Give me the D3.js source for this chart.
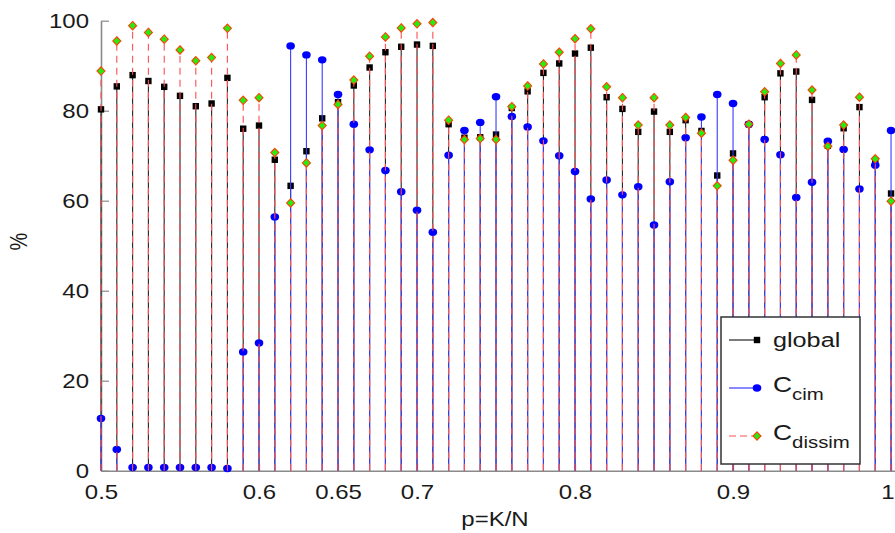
<!DOCTYPE html>
<html>
<head>
<meta charset="utf-8">
<script src="https://cdn.jsdelivr.net/npm/d3@7/dist/d3.min.js"></script>
<style>
  body { margin: 0; background: #fff; }
  svg { display: block; font-family: "Liberation Sans", Arial, sans-serif; }
</style>
</head>
<body>
<div id="chart"></div>
<script>
// x positions p = K/N
const pValues = [0.50, 0.51, 0.52, 0.53, 0.54, 0.55, 0.56, 0.57, 0.58, 0.59,
  0.60, 0.61, 0.62, 0.63, 0.64, 0.65, 0.66, 0.67, 0.68, 0.69,
  0.70, 0.71, 0.72, 0.73, 0.74, 0.75, 0.76, 0.77, 0.78, 0.79,
  0.80, 0.81, 0.82, 0.83, 0.84, 0.85, 0.86, 0.87, 0.88, 0.89,
  0.90, 0.91, 0.92, 0.93, 0.94, 0.95, 0.96, 0.97, 0.98, 0.99, 1.00];

const globalValues = [80.3, 85.4, 87.9, 86.6, 85.3, 83.3, 81.0, 81.6, 87.3, 76.0,
  76.7, 69.1, 63.3, 71.0, 78.3, 81.9, 85.6, 89.6, 93.0, 94.2,
  94.7, 94.4, 77.0, 74.0, 74.1, 74.7, 80.6, 84.3, 88.4, 90.5,
  92.7, 94.0, 83.0, 80.4, 75.3, 79.8, 75.3, 77.9, 75.5, 65.6,
  70.5, 77.0, 83.0, 88.3, 88.7, 82.4, 72.2, 76.1, 80.8, 68.9, 61.6];

const cimValues = [11.6, 4.7, 0.7, 0.7, 0.7, 0.7, 0.7, 0.7, 0.5, 26.4,
  28.4, 56.4, 94.4, 92.4, 91.3, 83.6, 77.0, 71.3, 66.7, 62.0,
  57.9, 53.0, 70.1, 75.6, 77.4, 83.1, 78.7, 76.4, 73.3, 70.0,
  66.5, 60.4, 64.6, 61.3, 63.1, 54.6, 64.2, 74.0, 78.6, 83.6,
  81.6, 77.0, 73.6, 70.2, 60.7, 64.1, 73.2, 71.4, 62.6, 67.9, 75.6];

const dissimValues = [88.8, 95.5, 98.9, 97.4, 95.9, 93.5, 91.1, 91.8, 98.3, 82.3,
  82.9, 70.7, 59.5, 68.4, 76.7, 81.4, 86.8, 92.1, 96.4, 98.4,
  99.3, 99.6, 77.9, 73.6, 73.8, 73.6, 80.9, 85.5, 90.4, 93.0,
  96.0, 98.2, 85.3, 82.9, 76.8, 82.9, 76.8, 78.5, 75.0, 63.3,
  69.0, 77.0, 84.2, 90.5, 92.4, 84.6, 72.1, 76.8, 83.0, 69.3, 59.9];

const xTickValues = [0.5, 0.6, 0.65, 0.7, 0.8, 0.9, 1];
const yTickValues = [0, 20, 40, 60, 80, 100];

const legendLabels = [
  { main: 'global', sub: '' },
  { main: 'C', sub: 'cim' },
  { main: 'C', sub: 'dissim' },
];

class StemChart {
  constructor(_config) {
    this.config = {
      parentElement: _config.parentElement,
      containerWidth: 895,
      containerHeight: 533,
      margin: { top: 20.7, right: 0, bottom: 62.3, left: 101 },
      textStretch: 1.2,
    };
    this.initVis();
  }

  initVis() {
    const vis = this;

    vis.width = vis.config.containerWidth - vis.config.margin.left - vis.config.margin.right;
    vis.height = vis.config.containerHeight - vis.config.margin.top - vis.config.margin.bottom;

    vis.svg = d3.select(vis.config.parentElement).append('svg')
      .attr('width', vis.config.containerWidth)
      .attr('height', vis.config.containerHeight);

    vis.chartArea = vis.svg.append('g')
      .attr('transform', `translate(${vis.config.margin.left},${vis.config.margin.top})`);

    /* x domain runs a little past 1, the figure is cut at the right edge */
    vis.xScale = d3.scaleLinear()
      .domain([0.5, 1.0025])
      .range([0, vis.width]);

    vis.yScale = d3.scaleLinear()
      .domain([0, 100])
      .range([vis.height, 0]);

    vis.series = [
      { key: 'global', values: globalValues, stroke: '#222', dash: null, marker: 'square' },
      { key: 'cim', values: cimValues, stroke: '#3a3aff', dash: null, marker: 'circle' },
      { key: 'dissim', values: dissimValues, stroke: '#ff5050', dash: '7,5', marker: 'diamond' },
    ];

    vis.renderAxes();
    vis.renderVis();
    vis.renderLegend();
  }

  renderAxes() {
    const vis = this;
    const s = vis.config.textStretch;

    const xAxis = d3.axisBottom(vis.xScale)
      .tickValues(xTickValues)
      .tickFormat((d) => String(d))
      .tickSizeInner(-7)
      .tickSizeOuter(0)
      .tickPadding(14);

    const yAxis = d3.axisLeft(vis.yScale)
      .tickValues(yTickValues)
      .tickSizeInner(-8)
      .tickSizeOuter(0)
      .tickPadding(10);

    const xg = vis.chartArea.append('g')
      .attr('transform', `translate(0,${vis.height})`)
      .call(xAxis);

    const yg = vis.chartArea.append('g').call(yAxis);

    [xg, yg].forEach((g) => {
      g.select('.domain').attr('stroke', '#8a8a8a').attr('stroke-width', 1.6);
      g.selectAll('.tick line').attr('stroke', '#8a8a8a').attr('stroke-width', 1.2);
      g.selectAll('.tick text')
        .attr('font-size', 20)
        .attr('font-family', '"Liberation Sans", Arial, sans-serif')
        .attr('fill', '#1a1a1a')
        .attr('transform', `scale(${s},1)`);
    });

    // the last label sits at the cut edge, nudge it in a bit
    xg.selectAll('.tick text').filter((d) => d === 1).attr('dx', -3);

    /* axis labels */
    vis.chartArea.append('text')
      .attr('transform', `translate(${vis.width / 2 - 3},${vis.height + 55}) scale(${s},1)`)
      .attr('text-anchor', 'middle')
      .attr('font-size', 20)
      .attr('fill', '#1a1a1a')
      .text('p=K/N');

    vis.svg.append('text')
      .attr('transform', `translate(27,${vis.config.margin.top + vis.height / 2 - 4}) scale(${s},1) rotate(-90)`)
      .attr('text-anchor', 'middle')
      .attr('font-size', 20)
      .attr('fill', '#1a1a1a')
      .text('%');
  }

  drawMarker(sel, type) {
    if (type === 'square') {
      sel.append('rect')
        .attr('x', -3.2).attr('y', -3.2)
        .attr('width', 6.4).attr('height', 6.4)
        .attr('fill', '#000');
    } else if (type === 'circle') {
      sel.append('ellipse')
        .attr('rx', 4.3).attr('ry', 3.7)
        .attr('fill', '#0000ff');
    } else {
      sel.append('path')
        .attr('d', 'M0,-4.2L4,0L0,4.2L-4,0Z')
        .attr('fill', '#22ee11')
        .attr('stroke', '#ff4000')
        .attr('stroke-width', 1.1);
    }
  }

  renderVis() {
    const vis = this;

    vis.series.forEach((sr) => {
      const pts = pValues.map((p, i) => ({ p, v: sr.values[i] }));
      const g = vis.chartArea.append('g').attr('class', `series-${sr.key}`);

      /* stems */
      g.selectAll('.stem')
        .data(pts)
        .join('line')
        .attr('class', 'stem')
        .attr('x1', (d) => vis.xScale(d.p))
        .attr('x2', (d) => vis.xScale(d.p))
        .attr('y1', vis.yScale(0))
        .attr('y2', (d) => vis.yScale(d.v))
        .attr('stroke', sr.stroke)
        .attr('stroke-width', 1.1)
        .attr('stroke-dasharray', sr.dash);

      /* markers */
      const marks = g.selectAll('.mark')
        .data(pts)
        .join('g')
        .attr('class', 'mark')
        .attr('transform', (d) => `translate(${vis.xScale(d.p)},${vis.yScale(d.v)})`);
      vis.drawMarker(marks, sr.marker);
    });
  }

  renderLegend() {
    const vis = this;
    const s = vis.config.textStretch;
    const box = { x: 721, y: 317, w: 139, h: 147 };

    const legend = vis.svg.append('g');
    legend.append('rect')
      .attr('x', box.x).attr('y', box.y)
      .attr('width', box.w).attr('height', box.h)
      .attr('fill', '#fff')
      .attr('stroke', '#333')
      .attr('stroke-width', 1.5);

    const rowY = (i) => box.y + 23 + i * 48;

    const rows = legend.selectAll('.legend-row')
      .data(vis.series)
      .join('g')
      .attr('class', 'legend-row')
      .attr('transform', (d, i) => `translate(${box.x},${rowY(i)})`);

    rows.append('line')
      .attr('x1', 8).attr('x2', 36)
      .attr('stroke', (d) => d.stroke)
      .attr('stroke-width', 1.2)
      .attr('stroke-dasharray', (d) => (d.dash ? '7,4' : null));

    rows.each(function (d) {
      const m = d3.select(this).append('g').attr('transform', 'translate(36,0)');
      vis.drawMarker(m, d.marker);
    });

    rows.each(function (d, i) {
      const lab = legendLabels[i];
      const t = d3.select(this).append('text')
        .attr('transform', `translate(52,${lab.sub ? 4 : 7}) scale(${s},1)`)
        .attr('fill', '#1a1a1a');
      t.append('tspan')
        .attr('font-size', lab.sub ? 22 : 21)
        .text(lab.main);
      if (lab.sub) {
        t.append('tspan')
          .attr('font-size', 17)
          .attr('dy', 8)
          .text(lab.sub);
      }
    });
  }
}

const chart = new StemChart({ parentElement: '#chart' });
</script>
</body>
</html>
